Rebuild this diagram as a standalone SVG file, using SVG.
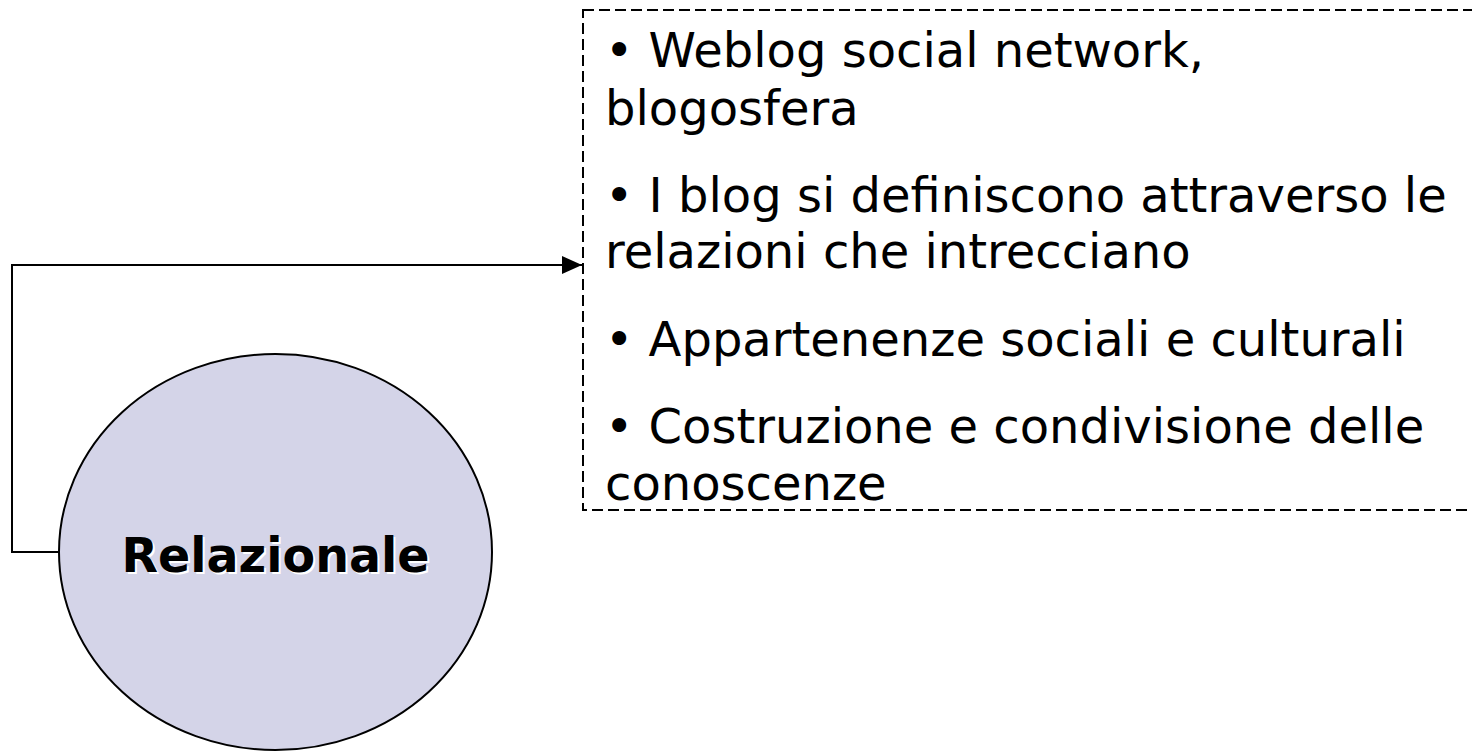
<svg xmlns="http://www.w3.org/2000/svg" width="1472" height="751" viewBox="0 0 1472 751">
<style>
.t{font-family:"DejaVu Sans",Verdana,sans-serif;font-size:48px;fill:#000}
.lbl{font-family:"DejaVu Sans",Verdana,sans-serif;font-size:47.5px;font-weight:bold;text-anchor:middle}
.conn{fill:none;stroke:#000;stroke-width:2}
</style>
<defs>
<marker id="arr" markerWidth="20" markerHeight="20" refX="20" refY="10" orient="auto" markerUnits="userSpaceOnUse">
<path d="M0,1 L20,10 L0,19 Z" fill="#000"/>
</marker>
</defs>
<rect width="1472" height="751" fill="#fff"/>
<g id="connectors">
<path class="conn" d="M59,552 H12 V265 H582" marker-end="url(#arr)"/>
</g>
<g id="relazionale">
<ellipse cx="275.5" cy="552" rx="216.5" ry="198" fill="#D4D4E8" stroke="#000" stroke-width="2"/>
<text class="lbl" x="277.5" y="574" fill="#fff">Relazionale</text>
<text class="lbl" x="275.5" y="572" fill="#000">Relazionale</text>
</g>
<g id="details">
<rect x="583" y="10" width="1000" height="500" fill="none" stroke="#000" stroke-width="2" stroke-dasharray="11,5"/>
<text class="t" x="605" y="67">• Weblog social network,</text>
<text class="t" x="605" y="125">blogosfera</text>
<text class="t" x="605" y="212">• I blog si definiscono attraverso le</text>
<text class="t" x="605" y="268">relazioni che intrecciano</text>
<text class="t" x="605" y="356">• Appartenenze sociali e culturali</text>
<text class="t" x="605" y="443">• Costruzione e condivisione delle</text>
<text class="t" x="605" y="500">conoscenze</text>
</g>
</svg>
